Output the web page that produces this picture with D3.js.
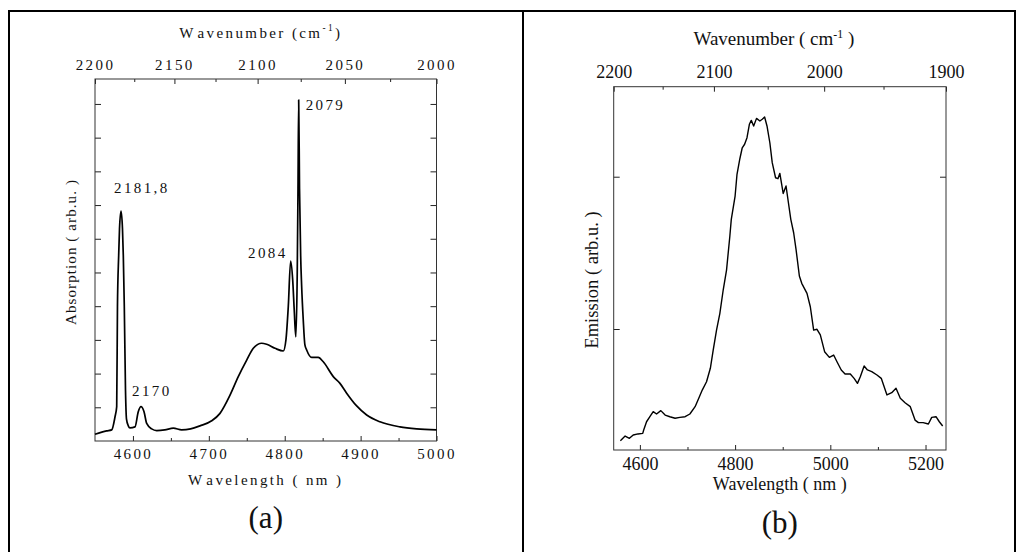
<!DOCTYPE html>
<html>
<head>
<meta charset="utf-8">
<script src="https://cdn.jsdelivr.net/npm/d3@7"></script>
<style>
body { margin: 0; background: #fff; }
svg { display: block; font-family: "Liberation Serif", "Times New Roman", "DejaVu Serif", serif; }
</style>
</head>
<body>
<script>
// (a) absorption spectrum, wavelength in nm / absorption in arb. units
const abs_wavelength = [4550, 4565.4, 4572, 4576.4, 4578.6, 4579.6, 4581.2, 4582.3, 4584.3, 4586.2,
	4587.3, 4588.6, 4590.2, 4591.5, 4593.9, 4596.1, 4602.7, 4607, 4610.6, 4614.6,
	4618.1, 4624.7, 4631.3, 4642, 4653.2, 4664.2, 4676, 4688.3, 4703.8, 4714.7,
	4727.9, 4738.8, 4749.9, 4758.6, 4769.6, 4776.2, 4787.2, 4798.1, 4801.6, 4804.7,
	4807.8, 4810.5, 4812.5, 4814.6, 4816.5, 4817.5, 4818.4, 4819.5, 4821, 4822.3,
	4824.4, 4826.6, 4828.9, 4835.5, 4844.2, 4850.8, 4864, 4872.8, 4881.6, 4894.8,
	4908, 4925.5, 4951.8, 4973.8, 5000];
const abs_value = [0.20, 0.30, 0.33, 0.72, 1.02, 4.0, 5.5, 6.3, 6.82, 6.3,
	5.5, 4.0, 1.5, 0.65, 0.45, 0.39, 0.42, 0.87, 1.02, 0.87,
	0.52, 0.36, 0.31, 0.33, 0.38, 0.33, 0.36, 0.45, 0.60, 0.82,
	1.36, 1.91, 2.40, 2.75, 2.90, 2.87, 2.75, 2.67, 3.00, 3.99,
	5.34, 4.78, 3.9, 3.09, 5.0, 7.5, 10.12, 7.5, 5.5, 4.6,
	3.6, 2.85, 2.70, 2.48, 2.48, 2.35, 1.91, 1.71, 1.42, 1.04,
	0.77, 0.57, 0.42, 0.36, 0.33];

// peak labels of (a)
const abs_peak_labels = ['2181,8', '2170', '2084', '2079'];
const abs_peak_wavelength = [4584.3, 4610.6, 4807.8, 4818.4];
const abs_peak_value = [6.82, 1.02, 5.34, 10.12];

// (b) emission spectrum
const em_wavelength = [4559, 4569, 4578, 4586, 4596, 4606, 4608, 4614, 4621, 4628,
	4635, 4644, 4653, 4663, 4674, 4684, 4695, 4705, 4716, 4725,
	4731, 4740, 4748, 4754, 4761, 4768, 4775, 4782, 4789, 4792,
	4800, 4804, 4810, 4815, 4820, 4825, 4830, 4834, 4839, 4845,
	4852, 4857, 4862, 4867, 4873, 4878, 4885, 4890, 4894, 4901,
	4907, 4912, 4917, 4923, 4928, 4935, 4940, 4951, 4958, 4965,
	4972, 4979, 4988, 4998, 5007, 5014, 5023, 5031, 5042, 5050,
	5057, 5063, 5071, 5078, 5087, 5098, 5107, 5119, 5129, 5138,
	5147, 5157, 5168, 5178, 5185, 5195, 5206, 5213, 5222, 5229, 5236];
const em_value = [0.267, 0.297, 0.282, 0.304, 0.311, 0.315, 0.337, 0.391, 0.424, 0.457,
	0.442, 0.464, 0.435, 0.424, 0.414, 0.420, 0.424, 0.442, 0.490, 0.555,
	0.599, 0.654, 0.742, 0.862, 0.993, 1.103, 1.256, 1.387, 1.611, 1.720,
	1.873, 2.016, 2.118, 2.190, 2.213, 2.256, 2.344, 2.370, 2.333, 2.383,
	2.366, 2.377, 2.392, 2.333, 2.223, 2.092, 1.993, 1.987, 2.022, 1.890,
	1.939, 1.829, 1.720, 1.632, 1.523, 1.348, 1.300, 1.234, 1.146, 0.993,
	0.998, 0.961, 0.851, 0.814, 0.829, 0.785, 0.731, 0.705, 0.705, 0.676,
	0.643, 0.687, 0.757, 0.731, 0.720, 0.698, 0.676, 0.567, 0.582, 0.611,
	0.545, 0.516, 0.490, 0.402, 0.385, 0.385, 0.376, 0.420, 0.424, 0.391, 0.363];

// ticks
const abs_nm_major = [4600, 4700, 4800, 4900, 5000];
const abs_nm_minor = [4650, 4750, 4850, 4950];
const abs_k_major = [2200, 2150, 2100, 2050, 2000];
const abs_k_minor = [2175, 2125, 2075, 2025];
const abs_y_ticks = [1, 2, 3, 4, 5, 6, 7, 8, 9, 10];

const em_nm_major = [4600, 4800, 5000, 5200];
const em_nm_minor = [4700, 4900, 5100];
const em_k_major = [2200, 2100, 2000, 1900];
const em_k_minor = [2150, 2050, 1950];
const em_y_ticks = [1, 2];

const svg = d3.select('body').append('svg')
	.attr('width', 1026)
	.attr('height', 552);

// table lines around the two panels
const border = svg.append('g').attr('stroke', '#000').attr('stroke-width', 2);
border.append('line').attr('x1', 8).attr('x2', 1016).attr('y1', 11).attr('y2', 11);
[9, 523, 1015].forEach(function(bx)
{
	border.append('line').attr('x1', bx).attr('x2', bx).attr('y1', 10).attr('y2', 552);
});

function draw_panel(p)
{
	const x = d3.scaleLinear().domain(p.x_domain).range([p.left, p.right]);
	const y = d3.scaleLinear().domain(p.y_domain).range([p.bottom, p.top]);
	// wavenumber axis: reciprocal of the wavelength
	const x_top = d3.scaleLinear().domain(p.k_domain.map(k => 1e7 / k)).range([p.left, p.right]);

	const g = svg.append('g');

	function style_axis(a, font_size, spacing)
	{
		a.attr('font-family', null).attr('font-size', null).attr('color', '#222');
		a.select('.domain').remove();
		a.selectAll('line').attr('stroke-width', 1);
		a.selectAll('text')
			.attr('font-size', font_size)
			.style('letter-spacing', spacing + 'px')
			.attr('fill', '#111');
	}

	// bottom
	g.append('g')
		.attr('transform', `translate(0,${p.bottom})`)
		.call(d3.axisBottom(x).tickValues(p.nm_major).tickSize(-5).tickPadding(p.bottom_pad).tickFormat(d3.format('d')))
		.call(a => style_axis(a, p.tick_size, p.spacing));
	g.append('g')
		.attr('transform', `translate(0,${p.bottom})`)
		.call(d3.axisBottom(x).tickValues(p.nm_minor).tickSize(-3).tickFormat(''))
		.call(a => style_axis(a, p.tick_size, p.spacing));

	// top
	g.append('g')
		.attr('transform', `translate(0,${p.top})`)
		.call(d3.axisTop(x_top).tickValues(p.k_major.map(k => 1e7 / k)).tickSize(-5).tickPadding(p.top_pad)
			.tickFormat(v => Math.round(1e7 / v)))
		.call(a => style_axis(a, p.tick_size, p.spacing));
	g.append('g')
		.attr('transform', `translate(0,${p.top})`)
		.call(d3.axisTop(x_top).tickValues(p.k_minor.map(k => 1e7 / k)).tickSize(-3).tickFormat(''))
		.call(a => style_axis(a, p.tick_size, p.spacing));

	// left / right
	g.append('g')
		.attr('transform', `translate(${p.left},0)`)
		.call(d3.axisLeft(y).tickValues(p.y_ticks).tickSize(-6).tickFormat(''))
		.call(a => style_axis(a, p.tick_size, p.spacing));
	g.append('g')
		.attr('transform', `translate(${p.right},0)`)
		.call(d3.axisRight(y).tickValues(p.y_ticks).tickSize(-6).tickFormat(''))
		.call(a => style_axis(a, p.tick_size, p.spacing));

	g.append('rect')
		.attr('x', p.left).attr('y', p.top)
		.attr('width', p.right - p.left).attr('height', p.bottom - p.top)
		.attr('fill', 'none')
		.attr('stroke', '#333')
		.attr('stroke-width', 1);

	g.append('path')
		.datum(d3.zip(p.xs, p.ys))
		.attr('fill', 'none')
		.attr('stroke', '#000')
		.attr('stroke-width', p.line_width)
		.attr('stroke-linejoin', 'round')
		.attr('d', d3.line()
			.x(d => x(d[0]))
			.y(d => y(d[1]))
			.curve(p.curve));

	const cx = (p.left + p.right) / 2;

	// wavenumber title with superscript
	const top_title = g.append('text')
		.attr('x', cx + p.top_title_dx)
		.attr('y', p.top_title_y)
		.attr('text-anchor', 'middle')
		.attr('font-size', p.title_size)
		.style('letter-spacing', p.spacing + 'px')
		.attr('fill', '#111');
	top_title.append('tspan').text('W');
	top_title.append('tspan').attr('dx', p.w_gap).text('avenumber ' + p.paren_open + 'cm');
	top_title.append('tspan').attr('dy', -7).attr('font-size', p.title_size * 0.62).text('-1');
	top_title.append('tspan').attr('dy', 7).text(p.paren_close + ')');

	const bottom_title = g.append('text')
		.attr('x', cx)
		.attr('y', p.bottom_title_y)
		.attr('text-anchor', 'middle')
		.attr('font-size', p.bottom_title_size)
		.style('letter-spacing', p.spacing + 'px')
		.attr('fill', '#111');
	bottom_title.append('tspan').text('W');
	bottom_title.append('tspan').attr('dx', p.w_gap).text('avelength ( nm )');

	g.append('text')
		.attr('transform', `translate(${p.y_title_x},${p.y_title_y}) rotate(-90)`)
		.attr('text-anchor', 'middle')
		.attr('font-size', p.y_title_size)
		.style('letter-spacing', p.y_spacing + 'px')
		.attr('fill', '#111')
		.text(p.y_title);

	g.append('text')
		.attr('x', cx)
		.attr('y', p.letter_y)
		.attr('text-anchor', 'middle')
		.attr('font-size', 31)
		.attr('fill', '#111')
		.text(p.letter);

	return { x: x, y: y, g: g };
}

const pa = draw_panel({
	left: 95, right: 436.5, top: 79, bottom: 441,
	x_domain: [4550, 5000], y_domain: [0, 10.74], k_domain: [2200, 2000],
	nm_major: abs_nm_major, nm_minor: abs_nm_minor,
	k_major: abs_k_major, k_minor: abs_k_minor, y_ticks: abs_y_ticks,
	xs: abs_wavelength, ys: abs_value, curve: d3.curveMonotoneX, line_width: 1.7,
	tick_size: 15, title_size: 15, bottom_title_size: 15, spacing: 2.4, w_gap: 3,
	bottom_pad: 7.4, top_pad: 9,
	top_title_dx: -5, top_title_y: 38, paren_open: '(', paren_close: '',
	bottom_title_y: 485,
	y_title: 'Absorption ( arb.u. )', y_title_x: 76, y_title_y: 252, y_title_size: 15, y_spacing: 1.1,
	letter: '(a)', letter_y: 528
});

// peak labels in (a), offset from the peak tops
const label_offset = { '2181,8': [-7, -18, 'start'], '2170': [-9, -11, 'start'], '2084': [-3, -3, 'end'], '2079': [7, 10, 'start'] };
pa.g.selectAll('.peak')
	.data(d3.range(abs_peak_labels.length))
	.enter()
	.append('text')
		.attr('class', 'peak')
		.attr('x', i => pa.x(abs_peak_wavelength[i]) + label_offset[abs_peak_labels[i]][0])
		.attr('y', i => pa.y(abs_peak_value[i]) + label_offset[abs_peak_labels[i]][1])
		.attr('text-anchor', i => label_offset[abs_peak_labels[i]][2])
		.attr('font-size', 15)
		.style('letter-spacing', '2.4px')
		.attr('fill', '#111')
		.text(i => abs_peak_labels[i]);

draw_panel({
	left: 613.7, right: 946, top: 86.7, bottom: 450,
	x_domain: [4545, 5243], y_domain: [0.2055, 2.591], k_domain: [2200, 1900],
	nm_major: em_nm_major, nm_minor: em_nm_minor,
	k_major: em_k_major, k_minor: em_k_minor, y_ticks: em_y_ticks,
	xs: em_wavelength, ys: em_value, curve: d3.curveLinear, line_width: 1.4,
	tick_size: 18, title_size: 19, bottom_title_size: 18, spacing: 0, w_gap: 0,
	bottom_pad: 6.8, top_pad: 8.4,
	top_title_dx: -6, top_title_y: 45, paren_open: '( ', paren_close: ' ',
	bottom_title_y: 490,
	y_title: 'Emission ( arb.u. )', y_title_x: 598, y_title_y: 280, y_title_size: 18.5, y_spacing: 0,
	letter: '(b)', letter_y: 533
});
</script>
</body>
</html>
